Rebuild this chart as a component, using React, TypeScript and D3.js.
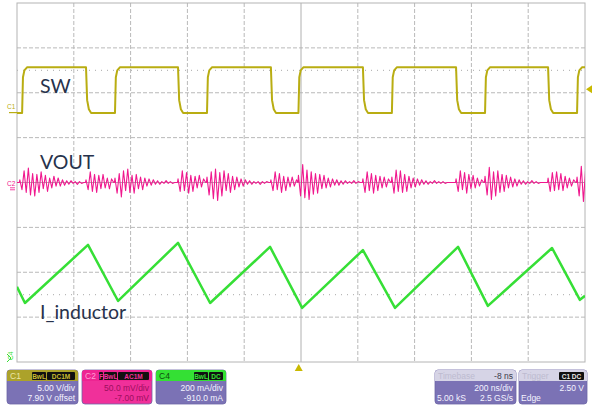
import React from "react";
import * as d3 from "d3";

// Screen and graticule
const W = 592;
const H = 407;
const PLOT = { left: 17, right: 585, top: 3, bottom: 362 };
const H_DIVS = 10;
const V_DIVS = 8;
const TIME_PER_DIV_NS = 200;
const TRIGGER_DELAY_NS = -8;
const CURSOR_DIVS = [2.5, -2.5];

// Channel settings (per-div scale and offset)
const C1_VDIV = 5; // V/div
const C1_OFFSET = 7.9; // V
const C2_VDIV = 50; // mV/div
const C2_OFFSET = -7; // mV
const C4_VDIV = 200; // mA/div
const C4_OFFSET = -910; // mA
const TRIGGER_LEVEL_V = 2.5;

// SW node: switching edges (ns) and levels (V)
const SW_RISE_NS = [-982, -655, -331, -9, 320, 648, 972];
const SW_FALL_NS = [-757, -433, -106, 218, 546, 870];
const SW_HIGH_V = 4.95;
const SW_LOW_V = -0.15;

// Inductor current: vertices of the triangle wave
const IL_TIME_NS = [-1000, -972, -750, -644, -433, -320, -109, 4, 218, 331, 553, 658, 884, 982, 1000];
const IL_MA = [445, 373, 632, 382, 641, 373, 623, 351, 609, 351, 623, 360, 618, 387, 405];

// Output ripple: ringing bursts after each switching edge (mV around the mean)
const VOUT_MEAN_MV = 7;
const VOUT_SAMPLE_NS = 7.5;
const VOUT_BURST_START_NS = [-990, -757, -655, -433, -331, -106, -9, 218, 320, 546, 648, 870, 972];
const VOUT_BURST_MV = [
  [3, -8, 13, -11, 16, -14, 10, -15, 9, -11, 12, -7, 8, -10, 5, -6, 7, -4, 5, -4, 3, -3, 2, -2, 2, -1, 1, -2, 1, -1],
  [3, -8, 12, -10, 9, -11, 8, -7, 9, -6, 5, -7, 4],
  [5, -12, 10, -16, 13, -9, 15, -11, 8, -12, 9, -7, 6, -8, 5, -4, 4, -3, 3, -2, 2, -2, 1, -1, 2, -1, 1, -1],
  [4, -10, 13, -9, 11, -12, 8, -10, 7, -6, 8, -5, 4],
  [6, -14, 12, -18, 15, -20, 11, -15, 13, -9, 10, -11, 7, -8, 6, -5, 4, -4, 3, -2, 2, -2, 1, -1, 1, -2, 1, -1, 1],
  [3, -9, 12, -8, 10, -11, 7, -9, 6, -5, 6, -4, 3],
  [8, -15, 20, -17, 14, -19, 12, -13, 10, -12, 9, -7, 8, -6, 5, -5, 4, -3, 3, -3, 2, -2, 2, -1, 1, -1, 2, -1, 1],
  [4, -11, 12, -9, 10, -12, 8, -9, 7, -6, 6, -5, 4],
  [6, -12, 14, -10, 13, -11, 9, -10, 7, -6, 5, -5, 4, -3, 3, -2, 2, -2, 1, -1, 2, -1, 1, -1, 1, -1],
  [4, -10, 13, -8, 11, -12, 9, -7, 8, -6, 5, -4, 3],
  [7, -14, 17, -19, 12, -15, 13, -11, 9, -10, 8, -6, 6, -5, 4, -4, 3, -2, 2, -2, 1, -1, 2, -1, 1, -1],
  [5, -10, 11, -9, 12, -8, 10, -9, 7, -6, 5, -4, 3],
  [6, -15, 18, -21, 14],
];

// Trace labels
const TRACE_LABELS = ["SW", "VOUT", "I_inductor"];

// Readout boxes
const C1_READOUT = ["5.00 V/div", "7.90 V offset"];
const C2_READOUT = ["50.0 mV/div", "-7.00 mV"];
const C4_READOUT = ["200 mA/div", "-910.0 mA"];
const TIMEBASE_READOUT = ["-8 ns", "200 ns/div", "5.00 kS", "2.5 GS/s"];
const TRIGGER_READOUT = ["2.50 V", "Edge"];

const COL_SW = "#b9ad12";
const COL_VOUT = "#f0188e";
const COL_IL = "#36df36";
const COL_GRID = "#b9b9b9";
const COL_PANEL = "#7b72b5";
const COL_LABEL = "#27324c";

const divW = (PLOT.right - PLOT.left) / H_DIVS;
const divH = (PLOT.bottom - PLOT.top) / V_DIVS;

const xScale = d3
  .scaleLinear()
  .domain([(-H_DIVS / 2) * TIME_PER_DIV_NS, (H_DIVS / 2) * TIME_PER_DIV_NS])
  .range([PLOT.left, PLOT.right]);

const chanScale = (perDiv: number, offset: number) =>
  d3
    .scaleLinear()
    .domain([-offset - (V_DIVS / 2) * perDiv, -offset + (V_DIVS / 2) * perDiv])
    .range([PLOT.bottom, PLOT.top]);

const yC1 = chanScale(C1_VDIV, C1_OFFSET);
const yC2 = chanScale(C2_VDIV, C2_OFFSET);
const yC4 = chanScale(C4_VDIV, C4_OFFSET);

function swPoints(): [number, number][] {
  const events = [
    ...SW_RISE_NS.map((t) => ({ t, up: true })),
    ...SW_FALL_NS.map((t) => ({ t, up: false })),
  ].sort((a, b) => a.t - b.t);
  const span = SW_HIGH_V - SW_LOW_V;
  let level = events[0].up ? SW_LOW_V : SW_HIGH_V;
  const pts: [number, number][] = [[xScale.domain()[0], level]];
  for (const e of events) {
    if (e.up) {
      pts.push([e.t, SW_LOW_V]);
      pts.push([e.t + 3, SW_LOW_V + 0.78 * span]);
      pts.push([e.t + 8, SW_LOW_V + 0.93 * span]);
      pts.push([e.t + 18, SW_HIGH_V]);
      level = SW_HIGH_V;
    } else {
      pts.push([e.t, SW_HIGH_V]);
      pts.push([e.t + 4, SW_HIGH_V - 0.72 * span]);
      pts.push([e.t + 10, SW_HIGH_V - 0.92 * span]);
      pts.push([e.t + 18, SW_LOW_V]);
      level = SW_LOW_V;
    }
  }
  pts.push([xScale.domain()[1], level]);
  return pts;
}

// Each burst runs until the next one starts; gaps are drawn at the mean level.
function voutPoints(): [number, number][] {
  const tEnd = xScale.domain()[1];
  const pts: [number, number][] = [[xScale.domain()[0], 0]];
  VOUT_BURST_START_NS.forEach((t0, i) => {
    const next = i + 1 < VOUT_BURST_START_NS.length ? VOUT_BURST_START_NS[i + 1] : tEnd + 50;
    const burst = VOUT_BURST_MV[i];
    pts.push([t0 - 2, 0]);
    let last = t0;
    for (let j = 0; j < burst.length; j++) {
      const t = t0 + j * VOUT_SAMPLE_NS;
      if (t >= next - 2) break;
      pts.push([t, burst[j]]);
      last = t;
    }
    const close = Math.min(last + VOUT_SAMPLE_NS, next - 2);
    pts.push([close, 0]);
  });
  pts.push([tEnd, 0]);
  return pts;
}

const swLine = d3
  .line<[number, number]>()
  .x((d) => xScale(d[0]))
  .y((d) => yC1(d[1]));
const voutLine = d3
  .line<[number, number]>()
  .x((d) => xScale(d[0]))
  .y((d) => yC2(d[1] + VOUT_MEAN_MV));
const ilLine = d3
  .line<number>()
  .x((_, i) => xScale(IL_TIME_NS[i]))
  .y((d) => yC4(d));

type Badge = { text: string; w: number; color: string };

function Readout(props: {
  x: number;
  w: number;
  headerFill: string;
  bodyFill: string;
  title?: string;
  titleColor?: string;
  headerRight?: string;
  headerRightColor?: string;
  badges?: Badge[];
  rows: { left?: string; right?: string }[];
  textColor: string;
}) {
  const y = 370;
  const h = 34;
  const hh = 11;
  const { x, w } = props;
  let bx = x + w - 2;
  const badgeEls: React.ReactNode[] = [];
  (props.badges || [])
    .slice()
    .reverse()
    .forEach((b, i) => {
      bx -= b.w;
      badgeEls.push(
        <g key={i}>
          <rect x={bx} y={y + 2} width={b.w - 1} height={hh - 3} fill="#111" rx={1} />
          <text
            x={bx + (b.w - 1) / 2}
            y={y + 8.6}
            fontSize={6.5}
            fontWeight="bold"
            textAnchor="middle"
            fill={b.color}
            fontFamily="Liberation Sans, Arial, sans-serif"
          >
            {b.text}
          </text>
        </g>
      );
    });
  return (
    <g>
      <rect x={x} y={y} width={w} height={h} rx={3} fill={props.bodyFill} stroke="#6c64a6" strokeWidth={0.8} />
      <path
        d={`M${x},${y + hh} V${y + 3} Q${x},${y} ${x + 3},${y} H${x + w - 3} Q${x + w},${y} ${x + w},${y + 3} V${y + hh} Z`}
        fill={props.headerFill}
      />
      {props.title && (
        <text x={x + 3} y={y + 9} fontSize={8.5} fill={props.titleColor} fontFamily="Liberation Sans, Arial, sans-serif">
          {props.title}
        </text>
      )}
      {props.headerRight && (
        <text
          x={x + w - 3}
          y={y + 9}
          fontSize={8.5}
          textAnchor="end"
          fill={props.headerRightColor}
          fontFamily="Liberation Sans, Arial, sans-serif"
        >
          {props.headerRight}
        </text>
      )}
      {badgeEls}
      {props.rows.map((r, i) => (
        <g key={i} fontSize={8.5} fill={props.textColor} fontFamily="Liberation Sans, Arial, sans-serif">
          {r.left && (
            <text x={x + 2} y={y + 21 + i * 10}>
              {r.left}
            </text>
          )}
          {r.right && (
            <text x={x + w - 3} y={y + 21 + i * 10} textAnchor="end">
              {r.right}
            </text>
          )}
        </g>
      ))}
    </g>
  );
}

export default function App() {
  const vLines = d3.range(1, H_DIVS).map((i) => PLOT.left + i * divW);
  const hLines = d3.range(1, V_DIVS).map((i) => PLOT.top + i * divH);
  const centerX = PLOT.left + (H_DIVS / 2) * divW;
  const centerY = PLOT.top + (V_DIVS / 2) * divH;

  const c1Zero = yC1(0);
  const c2Zero = yC2(0);
  const trigY = yC1(TRIGGER_LEVEL_V);
  const trigX = xScale(TRIGGER_DELAY_NS);

  return (
    <svg width={W} height={H} style={{ position: "absolute", left: 0, top: 0, background: "#fff" }}>
      <defs>
        <clipPath id="plotClip">
          <rect x={PLOT.left} y={PLOT.top} width={PLOT.right - PLOT.left} height={PLOT.bottom - PLOT.top} />
        </clipPath>
      </defs>
      <rect width={W} height={H} fill="#fff" />

      {/* graticule */}
      {vLines.map((x, i) =>
        Math.abs(x - centerX) < 0.5 ? null : (
          <line key={"v" + i} x1={x} x2={x} y1={PLOT.top} y2={PLOT.bottom} stroke={COL_GRID} strokeWidth={1} strokeDasharray="4 2" />
        )
      )}
      {hLines.map((y, i) =>
        Math.abs(y - centerY) < 0.5 ? null : (
          <line key={"h" + i} x1={PLOT.left} x2={PLOT.right} y1={y} y2={y} stroke={COL_GRID} strokeWidth={1} strokeDasharray="4 2" />
        )
      )}
      {CURSOR_DIVS.map((d, i) => (
        <line
          key={"c" + i}
          x1={PLOT.left}
          x2={PLOT.right}
          y1={centerY - d * divH}
          y2={centerY - d * divH}
          stroke="#a8a8a8"
          strokeWidth={1}
          strokeDasharray="1 5"
        />
      ))}
      <line x1={centerX} x2={centerX} y1={PLOT.top} y2={PLOT.bottom} stroke="#b0b0b0" strokeWidth={1} />
      <line x1={PLOT.left} x2={PLOT.right} y1={centerY} y2={centerY} stroke="#b0b0b0" strokeWidth={1} />
      <rect
        x={PLOT.left}
        y={PLOT.top}
        width={PLOT.right - PLOT.left}
        height={PLOT.bottom - PLOT.top}
        fill="none"
        stroke="#b4b4b4"
        strokeWidth={1}
      />

      {/* traces */}
      <g clipPath="url(#plotClip)" fill="none" strokeLinejoin="round">
        <path d={swLine(swPoints()) || ""} stroke={COL_SW} strokeWidth={2} />
        <path d={voutLine(voutPoints()) || ""} stroke={COL_VOUT} strokeWidth={1.1} />
        <path d={ilLine(IL_MA) || ""} stroke={COL_IL} strokeWidth={2.5} />
      </g>

      {/* trace labels */}
      <g fontFamily="Lato, 'Open Sans', sans-serif" fontSize={19.5} fill={COL_LABEL}>
        <text x={40} y={93}>{TRACE_LABELS[0]}</text>
        <text x={40} y={169}>{TRACE_LABELS[1]}</text>
        <text x={40} y={319}>{TRACE_LABELS[2]}</text>
      </g>

      {/* channel ground markers */}
      <g fontFamily="Liberation Sans, Arial, sans-serif" fontSize={6.5}>
        <text x={7} y={c1Zero - 3} fill={COL_SW}>C1</text>
        <line x1={9} x2={PLOT.left} y1={c1Zero + 1} y2={c1Zero + 1} stroke={COL_SW} strokeWidth={1.2} />
        <text x={7} y={c2Zero - 3} fill={COL_VOUT}>C2</text>
        <line x1={10} x2={15} y1={c2Zero - 1} y2={c2Zero - 1} stroke={COL_VOUT} strokeWidth={0.8} />
        <line x1={10} x2={15} y1={c2Zero + 1} y2={c2Zero + 1} stroke={COL_VOUT} strokeWidth={0.8} />
        <text x={0} y={0} fill={COL_IL} transform={`translate(13,360) rotate(-90)`}>C4</text>
        <path d={`M7,354 L11,358 L7,362`} fill="none" stroke={COL_IL} strokeWidth={1} />
      </g>

      {/* trigger markers */}
      <path d={`M${trigX},${PLOT.bottom + 2} l-4,7 h8 Z`} fill="#c9b900" />
      <path d={`M${PLOT.right + 1},${trigY} l6,-4 v8 Z`} fill="#c9b900" />

      {/* readouts */}
      <Readout
        x={7}
        w={71}
        headerFill="#aca22a"
        bodyFill={COL_PANEL}
        title="C1"
        titleColor="#ece6a6"
        badges={[
          { text: "BwL", w: 15, color: "#c9bd30" },
          { text: "DC1M", w: 29, color: "#c9bd30" },
        ]}
        rows={[{ right: C1_READOUT[0] }, { right: C1_READOUT[1] }]}
        textColor="#f4f2ff"
      />
      <Readout
        x={82}
        w={70}
        headerFill="#ee2492"
        bodyFill="#f0309a"
        title="C2"
        titleColor="#ff9fd2"
        badges={[
          { text: "F", w: 5, color: "#f0309a" },
          { text: "BwL", w: 14, color: "#f0309a" },
          { text: "AC1M", w: 32, color: "#f0309a" },
        ]}
        rows={[{ right: C2_READOUT[0] }, { right: C2_READOUT[1] }]}
        textColor="#9c0f5e"
      />
      <Readout
        x={156}
        w={70}
        headerFill="#34e034"
        bodyFill={COL_PANEL}
        title="C4"
        titleColor="#0e4f0e"
        badges={[
          { text: "BwL", w: 15, color: "#34e034" },
          { text: "DC", w: 15, color: "#34e034" },
        ]}
        rows={[{ right: C4_READOUT[0] }, { right: C4_READOUT[1] }]}
        textColor="#f4f2ff"
      />
      <Readout
        x={435}
        w={81}
        headerFill="#d6d4e6"
        bodyFill={COL_PANEL}
        title="Timebase"
        titleColor="#bdbbd0"
        headerRight={TIMEBASE_READOUT[0]}
        headerRightColor="#3a3a4a"
        rows={[{ right: TIMEBASE_READOUT[1] }, { left: TIMEBASE_READOUT[2], right: TIMEBASE_READOUT[3] }]}
        textColor="#f4f2ff"
      />
      <Readout
        x={519}
        w={68}
        headerFill="#d6d4e6"
        bodyFill={COL_PANEL}
        title="Trigger"
        titleColor="#bdbbd0"
        badges={[{ text: "C1 DC", w: 26, color: "#e8e8e8" }]}
        rows={[{ right: TRIGGER_READOUT[0] }, { left: TRIGGER_READOUT[1] }]}
        textColor="#f4f2ff"
      />
    </svg>
  );
}
